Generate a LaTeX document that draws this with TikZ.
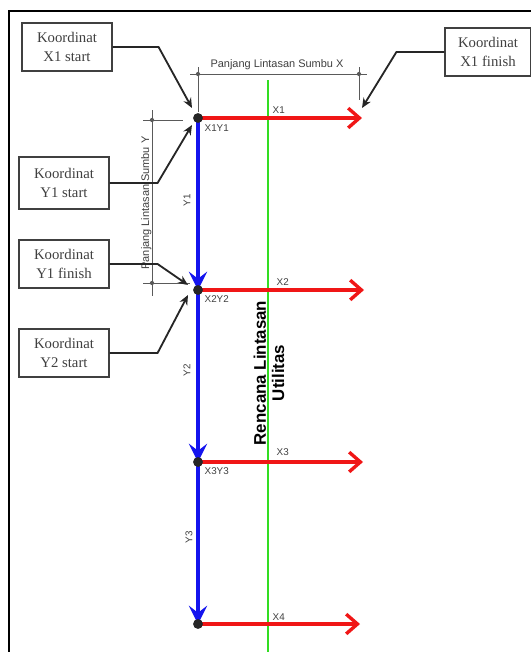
\documentclass[tikz,border=0pt]{standalone}
\usepackage{fontspec}
\setmainfont{Liberation Serif}
\setsansfont{Liberation Sans}
\usepackage{tikz}
\usetikzlibrary{arrows.meta, positioning, calc}
\usepackage{xcolor}
\definecolor{PathRed}{HTML}{F01616}
\definecolor{PathBlue}{HTML}{1414EE}
\definecolor{PathGreen}{HTML}{33DD22}
\definecolor{NoteGray}{HTML}{404040}
\definecolor{DimGray}{HTML}{5A5A5A}
\tikzset{
    % Kotak keterangan
    notebox/.style={
        rectangle,
        draw=NoteGray,
        line width=0.8pt,
        fill=white,
        minimum width=2.25cm,
        minimum height=1.2cm,
        align=center,
        text=NoteGray,
        font=\fontsize{10.5}{14}\selectfont
    },
    % Titik koordinat
    pointdot/.style={
        circle,
        fill=black!85,
        inner sep=0pt,
        minimum size=7pt
    },
    % Label kecil
    smalllabel/.style={
        text=NoteGray,
        inner sep=1pt,
        font=\sffamily\fontsize{7}{8}\selectfont
    },
    % Gaya panah
    xarrow/.style={
        -{Straight Barb[length=8pt, width=14pt, line width=2.4pt]},
        line width=2.2pt,
        PathRed
    },
    yarrow/.style={
        -{Stealth[length=13pt, width=13pt, inset=5pt]},
        line width=2.2pt,
        PathBlue
    },
    callout/.style={
        -{Stealth[length=7pt, width=6pt]},
        line width=1.3pt,
        black!85
    },
    dimline/.style={
        draw=DimGray,
        line width=0.5pt
    },
    dimtick/.style={
        circle,
        fill=DimGray,
        inner sep=0pt,
        minimum size=3pt
    }
}
\begin{document}
\begin{tikzpicture}[x=0.025cm, y=-0.025cm]
    \useasboundingbox (0,0) rectangle (531,652);
    % bingkai
    \draw[line width=1.2pt] (9,652) -- (9,11) -- (531,11);

    % titik koordinat dan ujung panah
    \coordinate (p1) at (198,118);
    \coordinate (p2) at (198,290);
    \coordinate (p3) at (198,462);
    \coordinate (p4) at (198,624);
    \coordinate (e1) at (362,118);
    \coordinate (e2) at (364,290);
    \coordinate (e3) at (363,462);
    \coordinate (e4) at (360,624);

    % rencana lintasan utilitas
    \coordinate (gtop) at (268,80);
    \coordinate (gbot) at (268,652);
    \draw[PathGreen, line width=1.7pt] (gtop) -- (gbot);
    \node[rotate=90, align=center, font=\sffamily\bfseries\fontsize{12}{13}\selectfont] (util) at (269,373) {Rencana Lintasan\\Utilitas};

    % lintasan sumbu X dan Y
    \draw[xarrow] (p1) -- (e1);
    \draw[xarrow] (p2) -- (e2);
    \draw[xarrow] (p3) -- (e3);
    \draw[xarrow] (p4) -- (e4);
    \draw[yarrow] (p1) -- (p2);
    \draw[yarrow] (p2) -- (p3);
    \draw[yarrow] (p3) -- (p4);

    \node[pointdot] (d1) at (p1) {};
    \node[pointdot] (d2) at (p2) {};
    \node[pointdot] (d3) at (p3) {};
    \node[pointdot] (d4) at (p4) {};

    % label titik
    \node[smalllabel, anchor=west] (lx1y1) at (203,128) {X1Y1};
    \node[smalllabel, anchor=west] (lx2y2) at (203,299) {X2Y2};
    \node[smalllabel, anchor=west] (lx3y3) at (203,471) {X3Y3};
    \node[smalllabel, anchor=west] (lx1) at (271,110) {X1};
    \node[smalllabel, anchor=west] (lx2) at (275,282) {X2};
    \node[smalllabel, anchor=west] (lx3) at (275,452) {X3};
    \node[smalllabel, anchor=west] (lx4) at (271,617) {X4};
    \node[smalllabel, rotate=90] (ly1) at (187,200) {Y1};
    \node[smalllabel, rotate=90] (ly2) at (187,370) {Y2};
    \node[smalllabel, rotate=90] (ly3) at (189,537) {Y3};

    % ukuran panjang lintasan sumbu X
    \coordinate (dxa) at (190,74);
    \coordinate (dxb) at (367,74);
    \draw[dimline] (dxa) -- (dxb);
    \draw[dimline] (198,67) -- (198,112);
    \draw[dimline] (359,67) -- (359,100);
    \node[dimtick] (tx1) at (198,74) {};
    \node[dimtick] (tx2) at (359,74) {};
    \node[smalllabel, anchor=south, font=\sffamily\fontsize{7.8}{9}\selectfont] (dimx) at (277,71) {Panjang Lintasan Sumbu X};

    % ukuran panjang lintasan sumbu Y
    \coordinate (dya) at (152,110);
    \coordinate (dyb) at (152,296);
    \draw[dimline] (dya) -- (dyb);
    \draw[dimline] (143,120) -- (183,120);
    \draw[dimline] (143,283) -- (190,283);
    \node[dimtick] (ty1) at (152,120) {};
    \node[dimtick] (ty2) at (152,283) {};
    \node[smalllabel, rotate=90, anchor=south, font=\sffamily\fontsize{7.8}{9}\selectfont] (dimy) at (153,203) {Panjang Lintasan Sumbu Y};

    % kotak keterangan
    \node[notebox] (kx1s) at (67,47) {Koordinat\\X1 start};
    \node[notebox, minimum width=2.15cm] (kx1f) at (488,52) {Koordinat\\X1 finish};
    \node[notebox, minimum height=1.3cm] (ky1s) at (64,183) {Koordinat\\Y1 start};
    \node[notebox] (ky1f) at (64,264) {Koordinat\\Y1 finish};
    \node[notebox] (ky2s) at (64,353) {Koordinat\\Y2 start};

    % panah keterangan
    \draw[callout] (kx1s.east) -- ++(46,0) -- ([shift={(-6,-10)}]p1);
    \draw[callout] (kx1f.west) -- ++(-48,0) -- ([shift={(0,-10)}]e1);
    \draw[callout] (ky1s.east) -- ++(48,0) -- ([shift={(-6,7)}]p1);
    \draw[callout] (ky1f.east) -- ++(48,0) -- ([shift={(-10,-5)}]p2);
    \draw[callout] (ky2s.east) -- ++(48,0) -- ([shift={(-10,5)}]p2);
\end{tikzpicture}
\end{document}
